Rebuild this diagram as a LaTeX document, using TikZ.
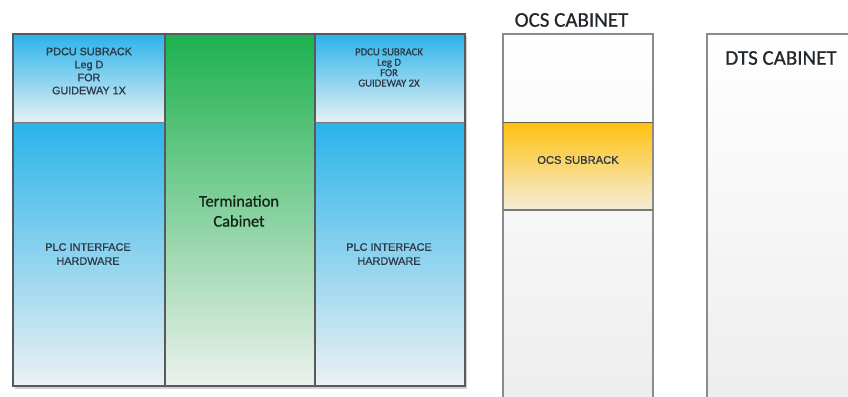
\documentclass[tikz,border=0pt]{standalone}
\usepackage{fontspec}
\setmainfont{Liberation Sans}
\newfontfamily\labelfont[FakeBold=0.9]{Liberation Sans}
\newfontfamily\calib[FakeBold=0.7]{Carlito}

\definecolor{edgedark}{HTML}{555A5E}
\definecolor{edgegray}{HTML}{8C8C8C}
\definecolor{blueTop}{HTML}{2AB3EA}
\definecolor{blueMid}{HTML}{86CDEE}
\definecolor{blueBot}{HTML}{EDF1F3}
\definecolor{pdcuBot}{HTML}{E6F0F4}
\definecolor{greenTop}{HTML}{1DB14E}
\definecolor{greenMid}{HTML}{74CC8F}
\definecolor{greenBot}{HTML}{EDF1EE}
\definecolor{amberTop}{HTML}{FFC10E}
\definecolor{amberBot}{HTML}{F5EDDA}
\definecolor{cabTop}{HTML}{FFFFFF}
\definecolor{cabBot}{HTML}{EDEDED}
\definecolor{labelInk}{HTML}{2C3946}
\definecolor{titleInk}{HTML}{22272C}

\begin{document}
\begin{tikzpicture}[x=1pt,y=1pt,
  rackline/.style={draw=edgedark, line width=1.3pt},
  cabline/.style={draw=edgegray, line width=1.3pt},
  smalllabel/.style={align=center, text=labelInk, inner sep=0pt,
    font=\labelfont\fontsize{10.8}{13}\selectfont},
  narrowlabel/.style={align=center, text=labelInk, inner sep=0pt,
    font=\calib\fontsize{10.7}{10.4}\selectfont},
  midlabel/.style={align=center, text=titleInk, inner sep=0pt,
    font=\calib\fontsize{16.4}{20}\selectfont},
  titlelabel/.style={text=titleInk, inner sep=0pt,
    font=\calib\fontsize{21}{24}\selectfont}]

\useasboundingbox (0,-396) rectangle (848,0);
\clip (0,-396) rectangle (848,0);
\fill[white] (0,-396) rectangle (848,0);

% ---- rack group: two PDCU/PLC columns around the termination cabinet ----
% soft shadow under the rack
\fill[black!18] (15,-388.5) rectangle (467,-36);
% left column
\shade[top color=blueTop, bottom color=pdcuBot] (13,-122) rectangle (165,-34);
\shade[top color=blueTop, middle color=blueMid, bottom color=blueBot] (13,-386) rectangle (165,-122);
% termination cabinet
\shade[top color=greenTop, middle color=greenMid, bottom color=greenBot] (165,-386) rectangle (315,-34);
% right column
\shade[top color=blueTop, bottom color=pdcuBot] (315,-122) rectangle (465,-34);
\shade[top color=blueTop, middle color=blueMid, bottom color=blueBot] (315,-386) rectangle (465,-122);
% outlines and dividers
\draw[rackline] (13,-386) rectangle (465,-34);
\draw[rackline] (165,-34) -- (165,-386);
\draw[rackline] (315,-34) -- (315,-386);
\draw[draw=edgedark!80, line width=1pt] (13,-122) -- (165,-122);
\draw[draw=edgedark!80, line width=1pt] (315,-122) -- (465,-122);

\node[smalllabel] (pdcuL) at (89,-71) {PDCU SUBRACK\\Leg D\\FOR\\GUIDEWAY 1X};
\node[narrowlabel] (pdcuR) at (389,-67.5) {PDCU SUBRACK\\Leg D\\FOR\\GUIDEWAY 2X};
\node[smalllabel, font=\labelfont\fontsize{10.9}{14}\selectfont] (plcL) at (88,-254) {PLC INTERFACE\\HARDWARE};
\node[smalllabel, font=\labelfont\fontsize{10.9}{14}\selectfont] (plcR) at (389,-254) {PLC INTERFACE\\HARDWARE};
\node[midlabel, text=titleInk!90!green!60!black] (term) at (239,-211) {Termination\\Cabinet};

% ---- OCS cabinet ----
\shade[top color=cabTop, bottom color=cabBot] (503,-410) rectangle (653,-34);
\shade[top color=amberTop, bottom color=amberBot] (503,-210) rectangle (653,-122);
\draw[cabline] (503,-410) -- (503,-34) -- (653,-34) -- (653,-410);
\draw[draw=edgegray!70!amberTop!60!black, line width=1pt] (503,-122) -- (653,-122);
\draw[draw=edgegray!85!black, line width=1.8pt] (503,-210) -- (653,-210);
\node[titlelabel] (ocsTitle) at (571.5,-20) {OCS CABINET};
\node[smalllabel, font=\labelfont\fontsize{11.2}{13}\selectfont] (ocsSub) at (578,-160) {OCS SUBRACK};

% ---- DTS cabinet ----
\shade[top color=cabTop, bottom color=cabBot] (707,-410) rectangle (870,-34);
\draw[cabline] (707,-410) -- (707,-34) -- (870,-34);
\node[titlelabel] (dtsTitle) at (781,-58) {DTS CABINET};

\end{tikzpicture}
\end{document}
